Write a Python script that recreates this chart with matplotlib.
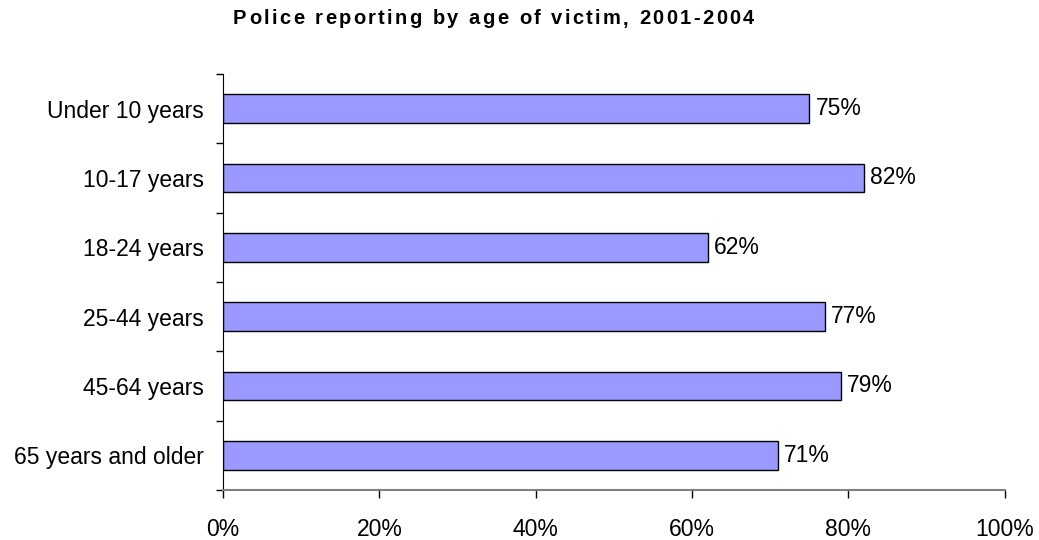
import matplotlib.pyplot as plt
from matplotlib.ticker import FixedLocator, PercentFormatter

plt.rcParams['font.family'] = ['Liberation Sans', 'DejaVu Sans']

# datos
titulo = "Police reporting by age of victim, 2001-2004"
categorias = ["Under 10 years", "10-17 years", "18-24 years",
              "25-44 years", "45-64 years", "65 years and older"]
porcentajes = [75, 82, 62, 77, 79, 71]
ticks_x = [0, 20, 40, 60, 80, 100]

fig = plt.figure(figsize=(10.39, 5.4), dpi=100)
ax = fig.add_axes([0.2146, 0.0926, 0.7524, 0.7704])

pos = list(range(len(categorias)))
ax.barh(pos, porcentajes, height=0.41, color="#9999FF",
        edgecolor="black", linewidth=1.0)

# etiquetas de valor a la derecha de cada barra
for p, v in zip(pos, porcentajes):
    ax.text(v + 0.8, p, f"{v}%", va="center", ha="left", fontsize=16.5)

ax.set_xlim(0, 100)
ax.set_ylim(len(categorias) - 0.5, -0.5)
ax.set_xticks(ticks_x)
ax.xaxis.set_major_formatter(PercentFormatter(decimals=0))

# etiquetas de categoria centradas, marcas en los limites
ax.set_yticks(pos)
ax.set_yticklabels(categorias, fontsize=16.5)
ax.yaxis.set_minor_locator(FixedLocator([p - 0.5 for p in range(len(categorias) + 1)]))
ax.tick_params(axis="y", which="major", length=0, pad=13.5)
ax.tick_params(axis="y", which="minor", length=5, width=1, color="black")
ax.tick_params(axis="x", length=6, width=1, pad=14, labelsize=16.5)

for s in ["top", "right"]:
    ax.spines[s].set_visible(False)
ax.spines["left"].set_color("black")
ax.spines["bottom"].set_color("#808080")
ax.spines["bottom"].set_linewidth(1.5)

# titulo con espaciado entre letras (como en el original)
render = fig.canvas.get_renderer()
props = dict(fontsize=14.5, fontweight="bold")
espacio = 2.4  # px entre letras

def ancho(s):
    t = fig.text(0, 0, s, **props)
    w = t.get_window_extent(render).width
    t.remove()
    return w

w_barra = ancho("|")
avances = [ancho(titulo[:i] + "|") - w_barra + i * espacio for i in range(len(titulo))]
total = ancho(titulo + "|") - w_barra + (len(titulo) - 1) * espacio
x0 = 493.5 - total / 2
for c, a in zip(titulo, avances):
    if c != " ":
        fig.text((x0 + a) / 1039, 1 - 19 / 540, c, ha="left", va="center", **props)

fig.savefig("out.png", dpi=100)
